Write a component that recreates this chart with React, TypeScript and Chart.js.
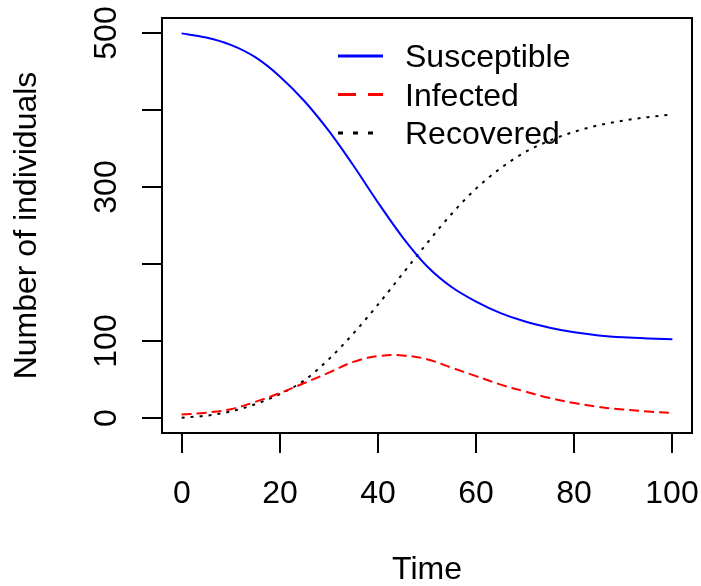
import React, { useEffect, useRef } from "react";
import { Chart, registerables } from "chart.js";

Chart.register(...registerables);

const times = [0, 5, 10, 15, 20, 25, 30, 35, 40, 45, 50, 55, 60, 65, 70, 75, 80, 85, 90, 95, 100];
const susceptible = [500, 494.5, 485, 469, 444, 412, 373, 328, 280, 235, 197, 170, 151, 136, 125, 117, 111, 107, 104.5, 103, 102];
const infected = [4, 6.5, 11, 20.5, 32, 45, 58.5, 72.5, 80, 81, 76, 65, 54, 43, 34, 25.5, 19, 14, 10.5, 8, 6];
const recovered = [0, 2.5, 8, 17.5, 30.5, 48.5, 76, 109.5, 147, 187, 227, 265, 298, 324.5, 345.5, 360.5, 372, 380.5, 386.5, 391, 394.5];

const xTicks = [0, 20, 40, 60, 80, 100];
const yTicks = [0, 100, 200, 300, 400, 500];
const yTickLabels = ["0", "100", "", "300", "", "500"];
const seriesNames = ["Susceptible", "Infected", "Recovered"];
const xTitle = "Time";
const yTitle = "Number of individuals";

const FONT = '32px "Liberation Sans", Arial, sans-serif';

const rAxesPlugin = {
  id: "rAxes",
  afterDatasetsDraw(chart: any) {
    const ctx = chart.ctx;
    const area = chart.chartArea;
    const xs = chart.scales.x;
    const ys = chart.scales.y;
    ctx.save();
    ctx.strokeStyle = "#000";
    ctx.fillStyle = "#000";
    ctx.lineWidth = 2;
    ctx.setLineDash([]);
    ctx.strokeRect(area.left, area.top, area.right - area.left, area.bottom - area.top);
    ctx.font = FONT;
    ctx.textAlign = "center";
    ctx.textBaseline = "alphabetic";
    xTicks.forEach((t) => {
      const px = Math.round(xs.getPixelForValue(t));
      ctx.beginPath();
      ctx.moveTo(px, area.bottom);
      ctx.lineTo(px, area.bottom + 20);
      ctx.stroke();
      ctx.fillText(String(t), px, 503);
    });
    yTicks.forEach((v, i) => {
      const py = Math.round(ys.getPixelForValue(v));
      ctx.beginPath();
      ctx.moveTo(area.left, py);
      ctx.lineTo(area.left - 20, py);
      ctx.stroke();
      const lab = yTickLabels[i];
      if (lab) {
        ctx.save();
        ctx.translate(116, py);
        ctx.rotate(-Math.PI / 2);
        ctx.textAlign = "center";
        ctx.textBaseline = "alphabetic";
        ctx.fillText(lab, 0, 0);
        ctx.restore();
      }
    });
    ctx.textAlign = "center";
    ctx.fillText(xTitle, (area.left + area.right) / 2, 579);
    ctx.save();
    ctx.translate(36, (area.top + area.bottom) / 2);
    ctx.rotate(-Math.PI / 2);
    ctx.fillText(yTitle, 0, 0);
    ctx.restore();

    const legendBase = [67, 105.5, 144];
    const styles = [
      { color: "#0000FF", dash: [] as number[] },
      { color: "#FF0000", dash: [18, 12] },
      { color: "#000000", dash: [5, 10] },
    ];
    seriesNames.forEach((name, i) => {
      ctx.save();
      ctx.strokeStyle = styles[i].color;
      ctx.lineWidth = 3;
      ctx.lineCap = "butt";
      ctx.setLineDash(styles[i].dash);
      ctx.beginPath();
      ctx.moveTo(338, legendBase[i] - 11);
      ctx.lineTo(383, legendBase[i] - 11);
      ctx.stroke();
      ctx.restore();
      ctx.textAlign = "left";
      ctx.textBaseline = "alphabetic";
      ctx.fillText(name, 405, legendBase[i]);
    });
    ctx.restore();
  },
};

export default function App() {
  const ref = useRef<HTMLCanvasElement | null>(null);
  useEffect(() => {
    if (!ref.current) return;
    const mk = (vals: number[]) => times.map((t, i) => ({ x: t, y: vals[i] }));
    const chart = new Chart(ref.current, {
      type: "line",
      data: {
        datasets: [
          {
            label: seriesNames[0],
            data: mk(susceptible),
            borderColor: "#0000FF",
            borderWidth: 2,
            pointRadius: 0,
            cubicInterpolationMode: "monotone",
            fill: false,
          },
          {
            label: seriesNames[1],
            data: mk(infected),
            borderColor: "#FF0000",
            borderWidth: 2,
            borderDash: [10, 5],
            pointRadius: 0,
            tension: 0.4,
            fill: false,
          },
          {
            label: seriesNames[2],
            data: mk(recovered),
            borderColor: "#000000",
            borderWidth: 2,
            borderDash: [3, 6],
            pointRadius: 0,
            cubicInterpolationMode: "monotone",
            fill: false,
          },
        ],
      },
      options: {
        responsive: false,
        animation: false,
        devicePixelRatio: 1,
        layout: { padding: { left: 162, right: 9, top: 18, bottom: 153 } },
        plugins: { legend: { display: false }, tooltip: { enabled: false } },
        scales: {
          x: { type: "linear", min: -4, max: 104, display: false },
          y: { type: "linear", min: -20, max: 520, display: false },
        },
      },
      plugins: [rAxesPlugin],
    });
    return () => chart.destroy();
  }, []);
  return (
    <div style={{ position: "absolute", left: 0, top: 0, width: 701, height: 586, background: "#fff" }}>
      <canvas ref={ref} width={701} height={586} style={{ width: 701, height: 586 }} />
    </div>
  );
}
